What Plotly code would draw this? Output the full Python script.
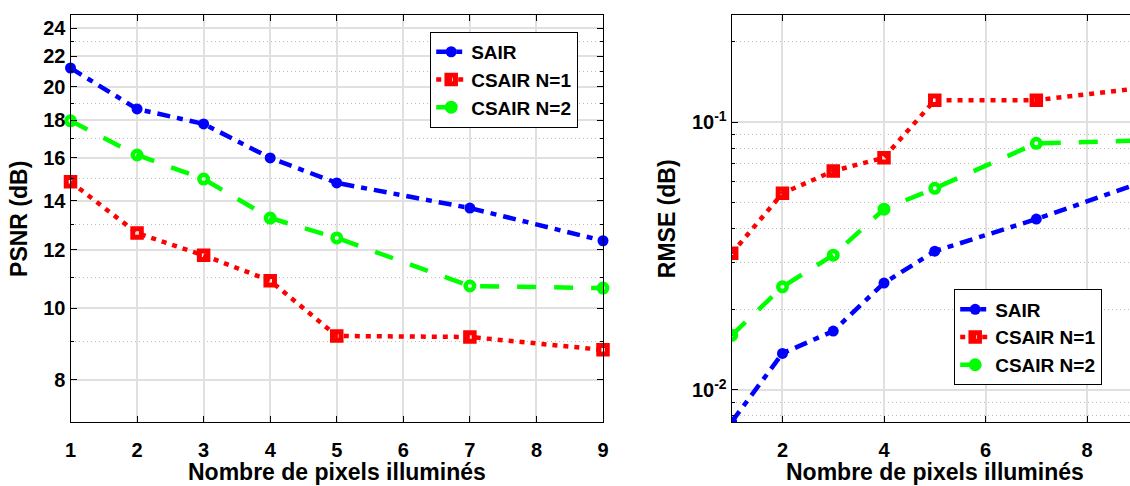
import plotly.graph_objects as go

# Number of illuminated pixels
pixels = [1, 2, 3, 4, 5, 7, 9]

# PSNR (dB)
psnr_sair = [21.2, 18.65, 17.8, 16.0, 14.8, 13.68, 12.35]
psnr_csair_n1 = [14.85, 12.65, 11.8, 10.9, 9.17, 9.14, 8.78]
psnr_csair_n2 = [17.97, 16.15, 14.98, 13.26, 12.46, 10.72, 10.65]

# RMSE
rmse_sair = [0.0076, 0.0137, 0.0166, 0.0251, 0.0330, 0.0435, 0.059]
rmse_csair_n1 = [0.0324, 0.0543, 0.0658, 0.0738, 0.121, 0.121, 0.134]
rmse_csair_n2 = [0.0160, 0.0243, 0.0319, 0.0474, 0.0567, 0.0835, 0.0855]

series_names = ["SAIR", "CSAIR N=1", "CSAIR N=2"]
x_title = "Nombre de pixels illuminés"

psnr_ticks = [8, 10, 12, 14, 16, 18, 20, 22, 24]
psnr_minor = [7, 9, 11, 13, 15, 17, 19, 21, 23, 25]
rmse_ticks = [0.01, 0.1]
rmse_ticktext = ["10<sup>-2</sup>", "10<sup>-1</sup>"]
rmse_minor = [0.008, 0.009, 0.02, 0.03, 0.04, 0.05, 0.06, 0.07, 0.08, 0.09, 0.2]

FONT = "Liberation Sans, Arial, Helvetica, sans-serif"
BLUE, RED, GREEN = "#0000FF", "#FF0000", "#00FF00"

styles = [
    dict(line=dict(color=BLUE, width=4.5, dash="13px,7px,6px,7px"),
         marker=dict(symbol="circle", size=11, color=BLUE)),
    dict(line=dict(color=RED, width=4.5, dash="5px,6px"),
         marker=dict(symbol="square-open", size=8.5, color=RED, line=dict(width=5, color=RED))),
    dict(line=dict(color=GREEN, width=4.5, dash="19px,18px"),
         marker=dict(symbol="circle-open", size=8.5, color=GREEN, line=dict(width=4.5, color=GREEN))),
]

fig = go.Figure()

for name, ys, st in zip(series_names, [psnr_sair, psnr_csair_n1, psnr_csair_n2], styles):
    fig.add_trace(go.Scatter(x=pixels, y=ys, name=name, mode="lines+markers",
                             xaxis="x", yaxis="y", legend="legend", cliponaxis=False, **st))

for name, ys, st in zip(series_names, [rmse_sair, rmse_csair_n1, rmse_csair_n2], styles):
    fig.add_trace(go.Scatter(x=pixels, y=ys, name=name, mode="lines+markers",
                             xaxis="x2", yaxis="y2", legend="legend2", **st))

tickfont = dict(family=FONT, size=20, color="black", weight="bold")
titlefont = dict(family=FONT, size=23, color="black", weight="bold")
GRID = "#e0e0e0"
MINOR_GRID = "#bdbdbd"

common_x = dict(showline=True, linecolor="black", linewidth=1.2, mirror="ticks",
                ticks="inside", ticklen=6, tickcolor="black", tickfont=tickfont,
                ticklabelstandoff=10, automargin=False,
                showgrid=True, gridcolor=GRID, gridwidth=1.5, zeroline=False)

common_y = dict(type="log", showline=True, linecolor="black", linewidth=1.2,
                ticks="inside", ticklen=6, tickcolor="black", tickfont=tickfont,
                automargin=False,
                showgrid=True, gridcolor=GRID, gridwidth=1.5, zeroline=False)

minor_common = dict(tickmode="array", ticks="inside", ticklen=3, tickcolor="black",
                    showgrid=True, gridcolor=MINOR_GRID, griddash="1px,3px", gridwidth=1)

legend_common = dict(xanchor="left", yanchor="top", bordercolor="black", borderwidth=1.2,
                     bgcolor="white", tracegroupgap=0, itemwidth=30,
                     font=dict(family=FONT, size=19, color="black", weight="bold"))

left_dom = [70.5 / 1130, 603 / 1130]
right_dom = [731.7 / 1130, 1.0]

fig.update_layout(
    width=1130, height=486,
    margin=dict(l=0, r=0, t=0, b=0, autoexpand=False),
    paper_bgcolor="white", plot_bgcolor="white",
    xaxis=dict(domain=left_dom, range=[1, 9], dtick=1, tick0=1, anchor="y", **common_x),
    yaxis=dict(domain=[0.1311, 0.9685], range=[0.8451, 1.3979], mirror="ticks",
               tickmode="array", tickvals=psnr_ticks, ticktext=[str(v) for v in psnr_ticks],
               minor=dict(tickvals=psnr_minor, **minor_common),
               title=dict(text="PSNR (dB)", font=titlefont, standoff=9),
               anchor="x", **common_y),
    xaxis2=dict(domain=right_dom, range=[1, 8.845], tickmode="array",
                tickvals=[2, 4, 6, 8], anchor="y2", **common_x),
    yaxis2=dict(domain=[0.1311, 0.9685], range=[-2.1207, -0.6], mirror=False,
                tickmode="array", tickvals=rmse_ticks, ticktext=rmse_ticktext,
                minor=dict(tickvals=rmse_minor, **minor_common),
                title=dict(text="RMSE (dB)", font=titlefont, standoff=9),
                anchor="x2", **common_y),
    legend=dict(x=430 / 1130, y=1 - 31.7 / 486, **legend_common),
    legend2=dict(x=954 / 1130, y=1 - 289.3 / 486, **legend_common),
    showlegend=True,
)

# x-axis titles placed just below the tick labels of each panel
for xc in [sum(left_dom) / 2, 935 / 1130]:
    fig.add_annotation(text=x_title, xref="paper", yref="paper", x=xc, y=1 - 472 / 486,
                       xanchor="center", yanchor="middle", showarrow=False,
                       borderpad=0, font=titlefont)

fig.write_html("out.html")
